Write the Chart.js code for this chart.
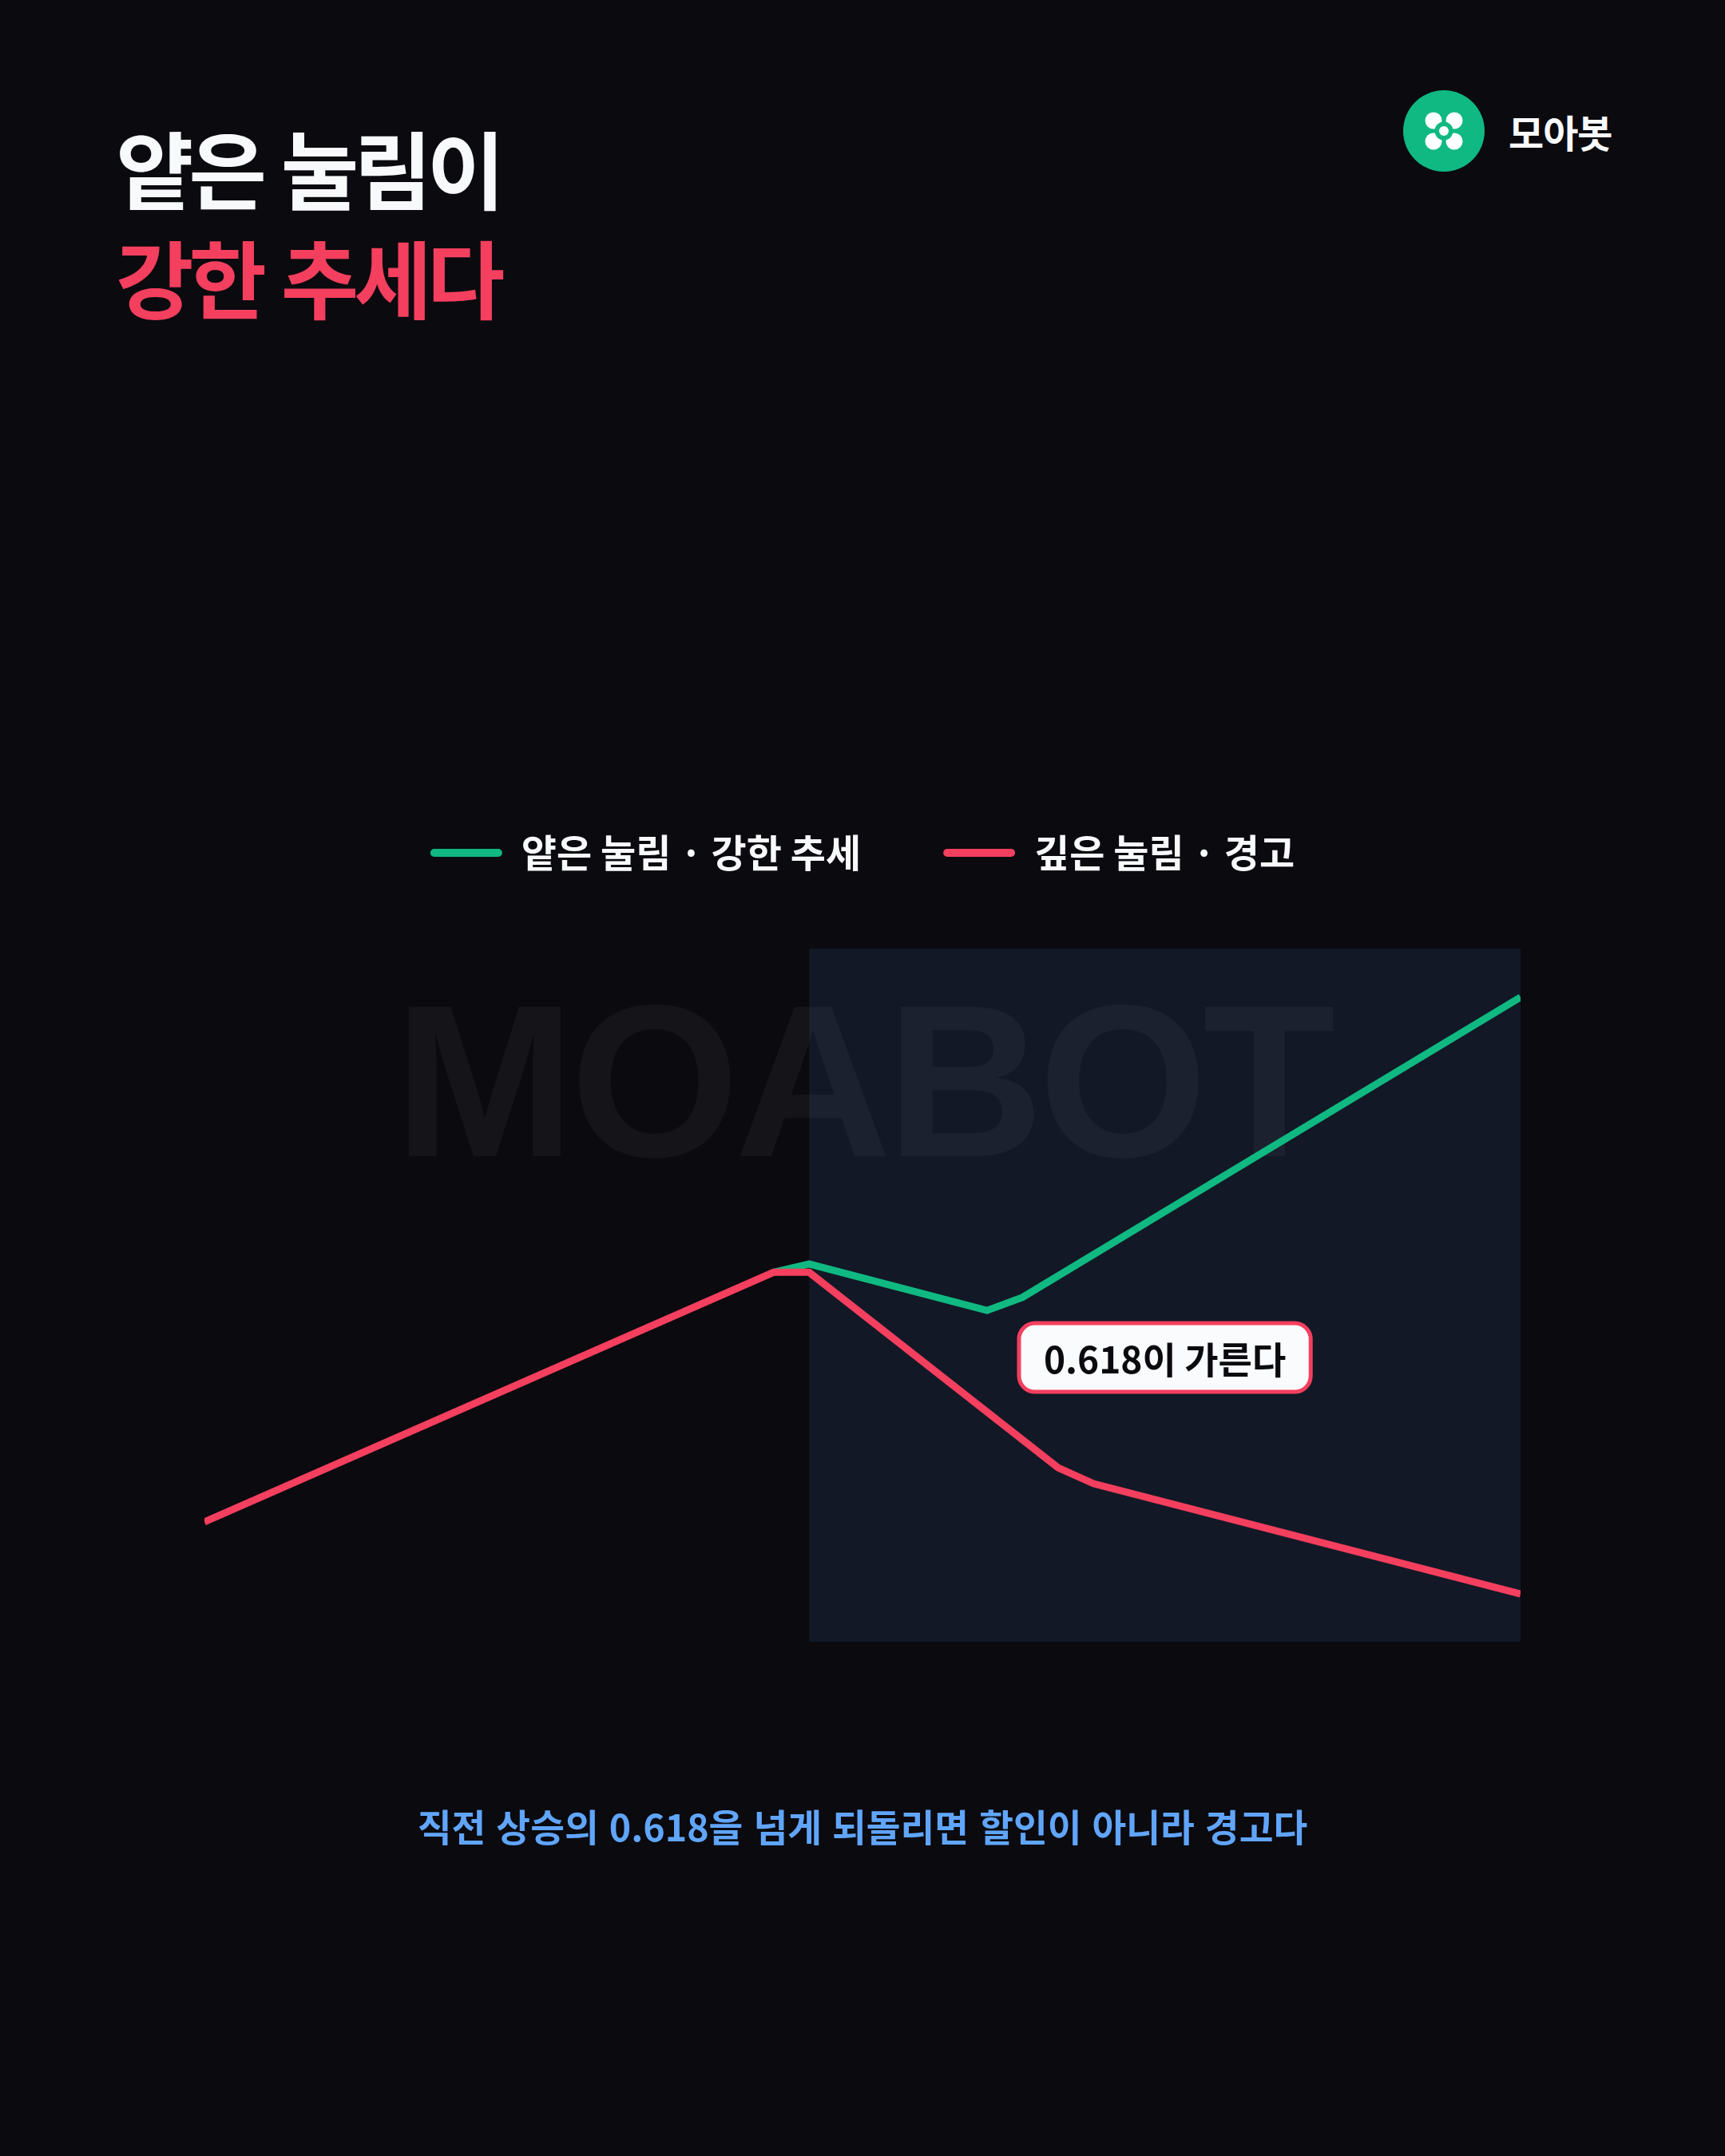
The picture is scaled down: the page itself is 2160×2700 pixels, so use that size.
<!DOCTYPE html>
<html lang="ko">
<head>
<meta charset="utf-8">
<title>얕은 눌림이 강한 추세다</title>
<script src="https://cdn.jsdelivr.net/npm/chart.js@4.4.1/dist/chart.umd.min.js"></script>
<style>
  html, body { margin: 0; padding: 0; background: #0a0a0f; }
  body { width: 2160px; height: 2700px; position: relative; overflow: hidden; font-family: "Noto Sans CJK KR", sans-serif; }
  #chart { position: absolute; left: 0; top: 0; }
  .title { position: absolute; left: 145px; top: 140px; font-size: 106px; font-weight: 700; line-height: 137px; letter-spacing: -6px; color: #f8f9fb; }
  .title .red { color: #f43f5e; }
  .brand { position: absolute; left: 1757px; top: 113px; display: flex; align-items: center; }
  .brand span { margin-left: 30px; font-size: 48px; font-weight: 700; color: #f8f9fb; letter-spacing: -1px; }
  .caption { position: absolute; left: 0; top: 2254px; width: 2160px; text-align: center; font-size: 46.5px; font-weight: 700; line-height: 64px; color: #60a5fa; }
</style>
</head>
<body>

<div class="title">얕은 눌림이<br><span class="red">강한 추세다</span></div>

<div class="brand">
  <svg width="102" height="102" viewBox="0 0 102 102">
    <circle cx="51" cy="51" r="51" fill="#10b981"/>
    <circle cx="38" cy="38" r="10.5" fill="#ffffff"/>
    <circle cx="64" cy="38" r="10.5" fill="#ffffff"/>
    <circle cx="38" cy="64" r="10.5" fill="#ffffff"/>
    <circle cx="64" cy="64" r="10.5" fill="#ffffff"/>
    <circle cx="51" cy="51" r="11.5" fill="#10b981"/>
    <circle cx="51" cy="51" r="6" fill="#ffffff"/>
  </svg>
  <span>모아봇</span>
</div>

<canvas id="chart" width="2160" height="2700"></canvas>

<div class="caption">직전 상승의 0.618을 넘게 되돌리면 할인이 아니라 경고다</div>

<script>
// series (x = bar index, y = price level)
var seriesNames = ['얕은 눌림 · 강한 추세', '깊은 눌림 · 경고'];
var xShallow = [16, 17, 22, 23, 37];
var yShallow = [53.3, 54.5, 47.8, 49.7, 93.0];
var xDeep = [0, 16, 17, 24, 25, 37];
var yDeep = [17.3, 53.3, 53.3, 25.1, 22.8, 6.9];

// pullback zone and callout
var zoneStart = 17;
var calloutText = '0.618이 가른다';
var calloutAt = [27, 41];
var watermark = 'MOABOT';

var green = '#10b981';
var red = '#f43f5e';

function toPoints(xs, ys) {
    var pts = [];
    for (var i = 0; i < xs.length; i++) {
        pts.push({ x: xs[i], y: ys[i] });
    }
    return pts;
}

// extra room under the legend
var legendGap = {
    id: 'legendGap',
    beforeLayout: function (chart) {
        var lg = chart.legend;
        if (lg && !lg._gapPatched) {
            var fit = lg.fit;
            lg.fit = function () {
                fit.call(lg);
                lg.height += 86;
            };
            lg._gapPatched = true;
        }
    }
};

// shaded pullback zone + watermark
var zonePlugin = {
    id: 'zone',
    beforeDatasetsDraw: function (chart) {
        var ctx = chart.ctx, area = chart.chartArea;
        var x0 = chart.scales.x.getPixelForValue(zoneStart);
        ctx.save();
        ctx.fillStyle = '#121826';
        ctx.fillRect(x0, area.top, area.right - x0, area.bottom - area.top);

        ctx.font = 'bold 272px "Liberation Sans", Arial, sans-serif';
        ctx.letterSpacing = '-6px';
        ctx.fillStyle = 'rgba(255,255,255,0.045)';
        ctx.textAlign = 'center';
        ctx.textBaseline = 'alphabetic';
        ctx.fillText(watermark, (area.left + area.right) / 2, area.top + 260);
        ctx.restore();
    }
};

// callout box
var calloutPlugin = {
    id: 'callout',
    afterDatasetsDraw: function (chart) {
        var ctx = chart.ctx;
        var cx = chart.scales.x.getPixelForValue(calloutAt[0]);
        var cy = chart.scales.y.getPixelForValue(calloutAt[1]);
        ctx.save();
        ctx.font = 'bold 46px "Noto Sans CJK KR", sans-serif';
        var tw = ctx.measureText(calloutText).width;
        var w = tw + 62, h = 86;
        ctx.beginPath();
        ctx.roundRect(cx - w / 2, cy - h / 2, w, h, 20);
        ctx.fillStyle = '#fafbfd';
        ctx.fill();
        ctx.lineWidth = 5;
        ctx.strokeStyle = red;
        ctx.stroke();
        ctx.fillStyle = '#0a0a0f';
        ctx.textAlign = 'center';
        ctx.textBaseline = 'middle';
        ctx.fillText(calloutText, cx, cy + 2);
        ctx.restore();
    }
};

var ctx = document.getElementById('chart');

var chart = new Chart(ctx, {
    type: 'line',
    data: {
        datasets: [{
            label: seriesNames[0],
            data: toPoints(xShallow, yShallow),
            borderColor: green,
            backgroundColor: green,
            borderWidth: 9,
            pointRadius: 0,
            tension: 0,
            order: 1
        }, {
            label: seriesNames[1],
            data: toPoints(xDeep, yDeep),
            borderColor: red,
            backgroundColor: red,
            borderWidth: 9,
            pointRadius: 0,
            tension: 0,
            order: 0
        }]
    },
    options: {
        responsive: false,
        animation: false,
        devicePixelRatio: 1,
        layout: {
            padding: { top: 941, left: 256, right: 256, bottom: 644 }
        },
        scales: {
            x: { type: 'linear', min: 0, max: 37, display: false },
            y: { min: 0, max: 100, display: false }
        },
        plugins: {
            tooltip: { enabled: false },
            legend: {
                position: 'top',
                labels: {
                    color: '#f8f9fb',
                    boxWidth: 90,
                    boxHeight: 10,
                    padding: 103,
                    font: { family: '"Noto Sans CJK KR", sans-serif', size: 48, weight: 'bold' },
                    sort: function (a, b) { return a.datasetIndex - b.datasetIndex; },
                    generateLabels: function (chart) {
                        return chart.data.datasets.map(function (ds, i) {
                            return {
                                text: ds.label,
                                fillStyle: ds.borderColor,
                                strokeStyle: ds.borderColor,
                                lineWidth: 0,
                                borderRadius: 5,
                                fontColor: '#f8f9fb',
                                hidden: false,
                                datasetIndex: i
                            };
                        });
                    }
                }
            }
        }
    },
    plugins: [legendGap, zonePlugin, calloutPlugin]
});
</script>
</body>
</html>
